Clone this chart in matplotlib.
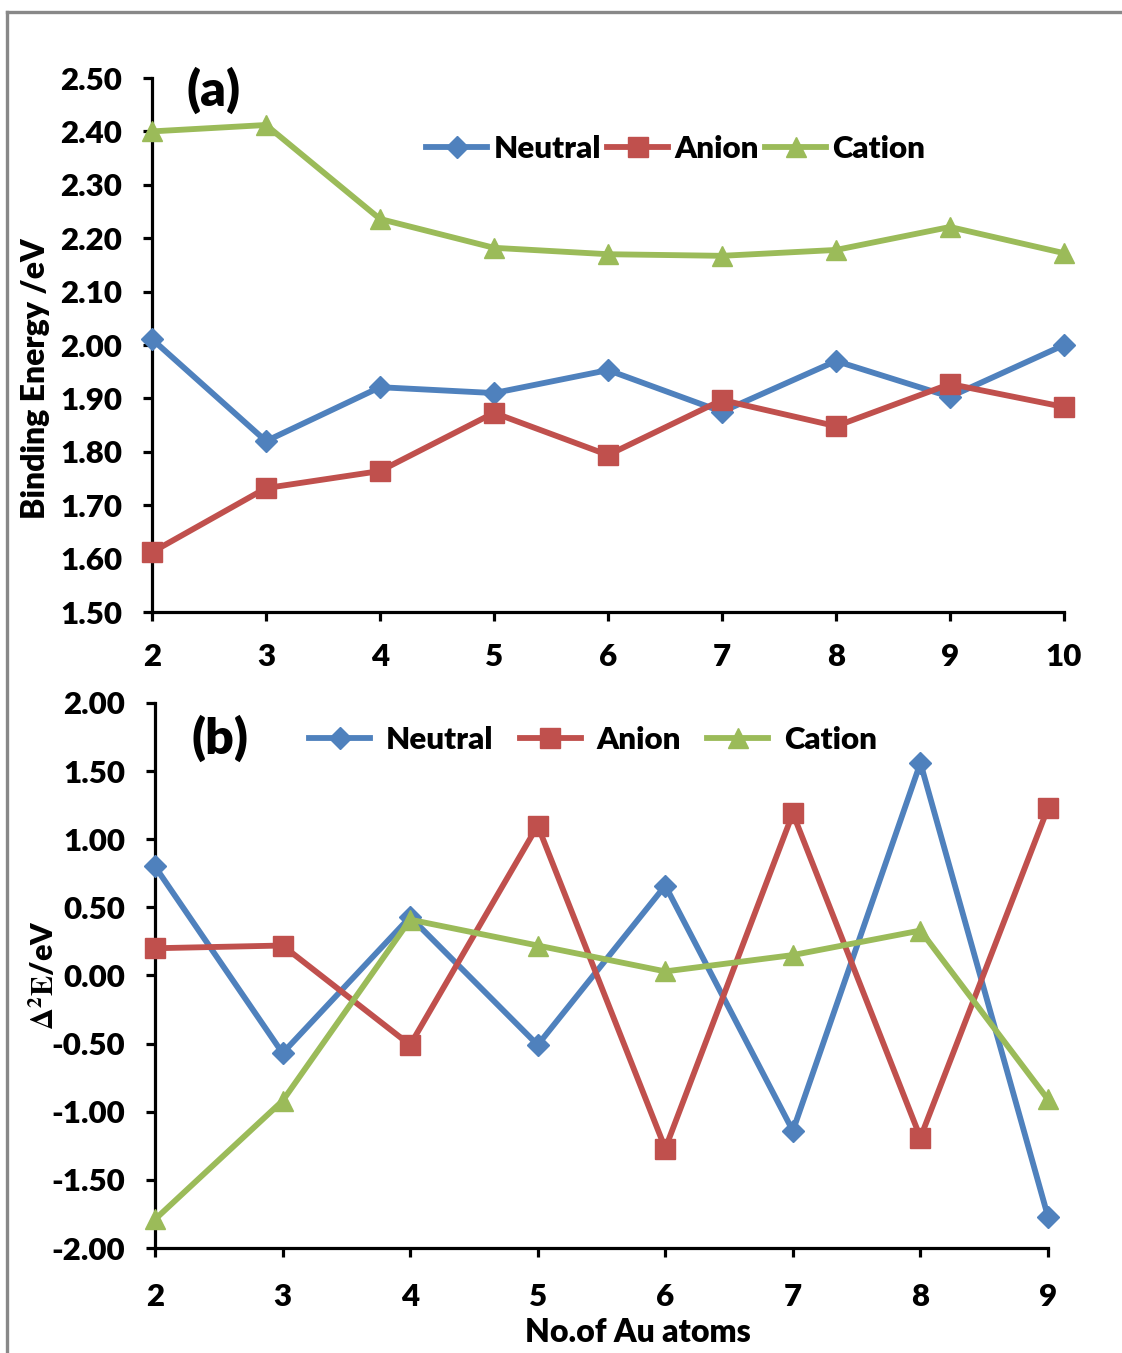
import matplotlib
matplotlib.use("Agg")
import matplotlib.pyplot as plt
from matplotlib.lines import Line2D

plt.rcParams['font.family'] = ['Lato', 'DejaVu Sans']
plt.rcParams['font.weight'] = 'heavy'
plt.rcParams['mathtext.fontset'] = 'stix'

# ---- data ----
atoms_a = [2, 3, 4, 5, 6, 7, 8, 9, 10]
neutral_a = [2.011, 1.820, 1.921, 1.910, 1.953, 1.875, 1.970, 1.903, 2.000]
anion_a = [1.612, 1.732, 1.764, 1.873, 1.794, 1.897, 1.848, 1.927, 1.884]
cation_a = [2.400, 2.412, 2.236, 2.182, 2.170, 2.167, 2.178, 2.221, 2.172]

atoms_b = [2, 3, 4, 5, 6, 7, 8, 9]
neutral_b = [0.80, -0.57, 0.43, -0.51, 0.66, -1.14, 1.56, -1.77]
anion_b = [0.20, 0.22, -0.51, 1.10, -1.27, 1.19, -1.19, 1.23]
cation_b = [-1.79, -0.92, 0.41, 0.22, 0.03, 0.15, 0.33, -0.91]

yticks_a = [1.50, 1.60, 1.70, 1.80, 1.90, 2.00, 2.10, 2.20, 2.30, 2.40, 2.50]
yticks_b = [-2.00, -1.50, -1.00, -0.50, 0.00, 0.50, 1.00, 1.50, 2.00]
series_names = ['Neutral', 'Anion', 'Cation']

colors = ['#4F81BD', '#C0504D', '#9BBB59']
markers = ['D', 's', '^']
msizes = [11, 14, 15]
WT = 'heavy'

W, H = 1122, 1353
fig = plt.figure(figsize=(W / 100, H / 100), dpi=100)

def fx(px):
    return px / W

def fy(py):
    return 1 - py / H

ax_a = fig.add_axes([fx(152), fy(612), fx(1064) - fx(152), fy(78) - fy(612)])
ax_b = fig.add_axes([fx(155), fy(1248), fx(1048) - fx(155), fy(703) - fy(1248)])

def style(ax, xpad):
    for s in ['top', 'right']:
        ax.spines[s].set_visible(False)
    for s in ['left', 'bottom']:
        ax.spines[s].set_linewidth(2.3)
        ax.spines[s].set_color('black')
    ax.tick_params(direction='out', length=6.5, width=2.3, labelsize=22.5)
    ax.tick_params(axis='y', pad=15)
    ax.tick_params(axis='x', pad=xpad)
    for lab in ax.get_xticklabels() + ax.get_yticklabels():
        lab.set_fontweight(WT)

for ys, c, m, ms, nm in zip([neutral_a, anion_a, cation_a], colors, markers, msizes, series_names):
    ax_a.plot(atoms_a, ys, color=c, marker=m, markersize=ms, linewidth=4.2,
              clip_on=False, label=nm, zorder=3)
ax_a.set_xlim(2, 10)
ax_a.set_ylim(1.50, 2.50)
ax_a.set_xticks(atoms_a)
ax_a.set_yticks(yticks_a)
ax_a.set_yticklabels([f"{v:.2f}" for v in yticks_a])
style(ax_a, 16)
ax_a.legend(loc='center', ncol=3, frameon=False,
            prop={'size': 22.5, 'weight': WT}, handlelength=1.95, columnspacing=0.2,
            handletextpad=0.2,
            bbox_to_anchor=((676 - 152) / (1064 - 152), (612 - 149) / (612 - 78)),
            bbox_transform=ax_a.transAxes)
ax_a.text((214 - 152) / (1064 - 152), (612 - 90) / (612 - 78), '(a)', transform=ax_a.transAxes,
          fontsize=36, fontweight=WT, ha='center', va='center')

for ys, c, m, ms, nm in zip([neutral_b, anion_b, cation_b], colors, markers, msizes, series_names):
    ax_b.plot(atoms_b, ys, color=c, marker=m, markersize=ms, linewidth=4.2,
              clip_on=False, label=nm, zorder=3)
ax_b.set_xlim(2, 9)
ax_b.set_ylim(-2.00, 2.00)
ax_b.set_xticks(atoms_b)
ax_b.set_yticks(yticks_b)
ax_b.set_yticklabels([f"{v:.2f}" for v in yticks_b])
style(ax_b, 19)
ax_b.legend(loc='center', ncol=3, frameon=False, prop={'size': 22.5, 'weight': WT},
            handlelength=1.95, columnspacing=0.85, handletextpad=0.5,
            bbox_to_anchor=((593 - 155) / (1048 - 155), (1248 - 740) / (1248 - 703)),
            bbox_transform=ax_b.transAxes)
ax_b.text((220 - 155) / (1048 - 155), (1248 - 738) / (1248 - 703), '(b)', transform=ax_b.transAxes,
          fontsize=36, fontweight=WT, ha='center', va='center')

fig.text(fx(36), fy(379), 'Binding Energy /eV', rotation=90, ha='center', va='center',
         fontsize=23, fontweight=WT)
fig.text(fx(44), fy(975), r'$\Delta^{2}\mathbf{E}$/eV', rotation=90, ha='center', va='center',
         fontsize=22, fontweight=WT)
fig.text(fx(638), fy(1332), 'No.of Au atoms', ha='center', va='center',
         fontsize=23, fontweight=WT)

# outer border (top and left)
fig.add_artist(Line2D([fx(7), 1.0], [fy(12), fy(12)], color='#888888', linewidth=2.4,
                      transform=fig.transFigure))
fig.add_artist(Line2D([fx(7), fx(7)], [fy(12), 0.0], color='#888888', linewidth=2.4,
                      transform=fig.transFigure))

fig.savefig('out.png', dpi=100)
